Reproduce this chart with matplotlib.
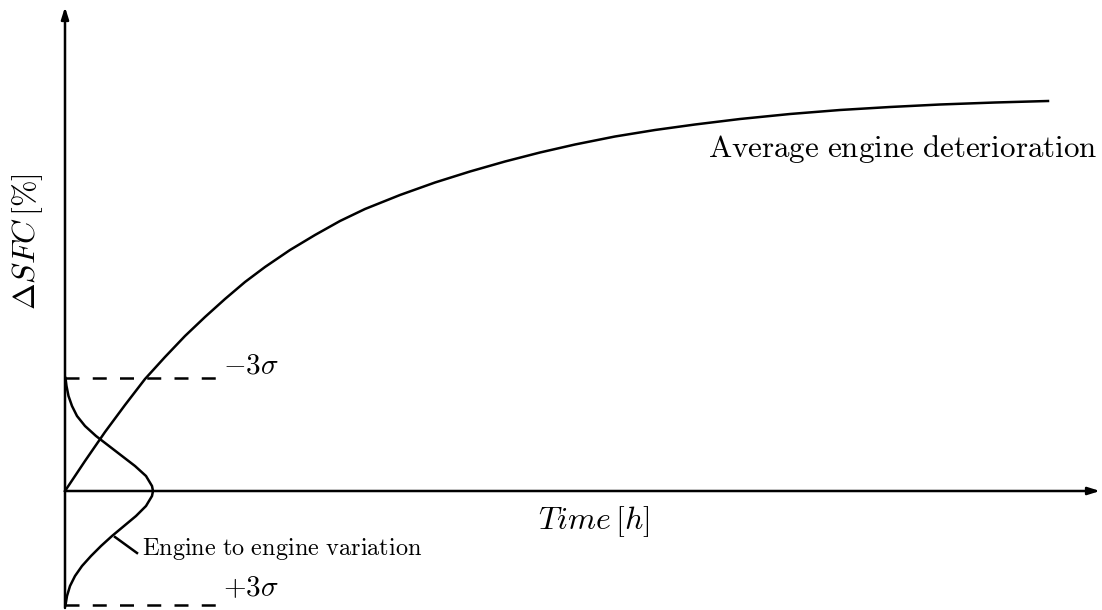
import matplotlib.pyplot as plt
import numpy as np

plt.rcParams['mathtext.fontset'] = 'cm'

# average deterioration curve (time, delta SFC)
time_pts = [0, 20, 40, 60, 80, 100, 120, 140, 160, 180, 200, 225, 250, 275, 300,
            335, 370, 405, 440, 475, 510, 550, 590, 630, 675, 725, 775, 825, 875,
            930, 983]
sfc_pts = [0, 30, 59, 86, 112, 134, 155, 174, 192, 209, 224, 241, 256, 270, 282,
           296, 308.5, 319.5, 329.5, 338.5, 346.5, 354.5, 361, 366.5, 372, 377, 381,
           384, 386.5, 388.5, 390]

# engine-to-engine scatter, drawn sideways on the SFC axis
spread_sfc = [113, 105, 95, 85, 75, 65, 55, 45, 35, 25, 15, 5, 0,
              -5, -15, -25, -35, -45, -55, -65, -75, -85, -95, -105, -114]
spread_density = [0.5, 1.5, 3.5, 7, 12, 20, 31, 44, 57, 70, 81, 87, 88,
                  87, 81, 71, 59, 47, 36, 26, 17, 10, 5, 2, 0.5]

sigma_levels = [113, -114]
sigma_labels = [r'$-3\sigma$', r'$+3\sigma$']
sigma_text_y = [125, -97]
band_end = 152

fig = plt.figure(figsize=(11.02, 6.10), dpi=100)
ax = fig.add_axes([0, 0, 1, 1])
ax.set_xlim(-65, 1037)
ax.set_ylim(-119, 491)
ax.axis('off')

lw = 1.8
arrow = dict(arrowstyle='-|>,head_length=0.7,head_width=0.22', color='black',
             lw=lw, shrinkA=0, shrinkB=0)
ax.annotate('', xy=(0, 484), xytext=(0, -117), arrowprops=arrow)
ax.annotate('', xy=(1035, 0), xytext=(0, 0), arrowprops=arrow)

ax.plot(time_pts, sfc_pts, color='black', lw=lw, solid_joinstyle='round')
ax.plot(spread_density, spread_sfc, color='black', lw=lw, solid_joinstyle='round')

for lvl, lab, ty in zip(sigma_levels, sigma_labels, sigma_text_y):
    ax.plot([0, band_end], [lvl, lvl], color='black', lw=lw, dashes=(5.6, 5.3))
    ax.text(band_end + 6, ty, lab, fontsize=21, ha='left', va='center')

ax.text(1032, 342, r'$\mathrm{Average\ engine\ deterioration}$', fontsize=22.3,
        ha='right', va='center')

# leader to the scatter curve
ax.plot([50, 72], [-46, -62], color='black', lw=lw)
ax.text(77, -58, r'$\mathrm{Engine\ to\ engine\ variation}$', fontsize=17.5,
        ha='left', va='center')

ax.text(529, -31, r'$Time\,[h]$', fontsize=23, ha='center', va='center')
ax.text(-37, 249, r'$\Delta SFC\,[\%]$', fontsize=23, ha='center', va='center',
        rotation=90)

fig.savefig('out.png', dpi=100)
